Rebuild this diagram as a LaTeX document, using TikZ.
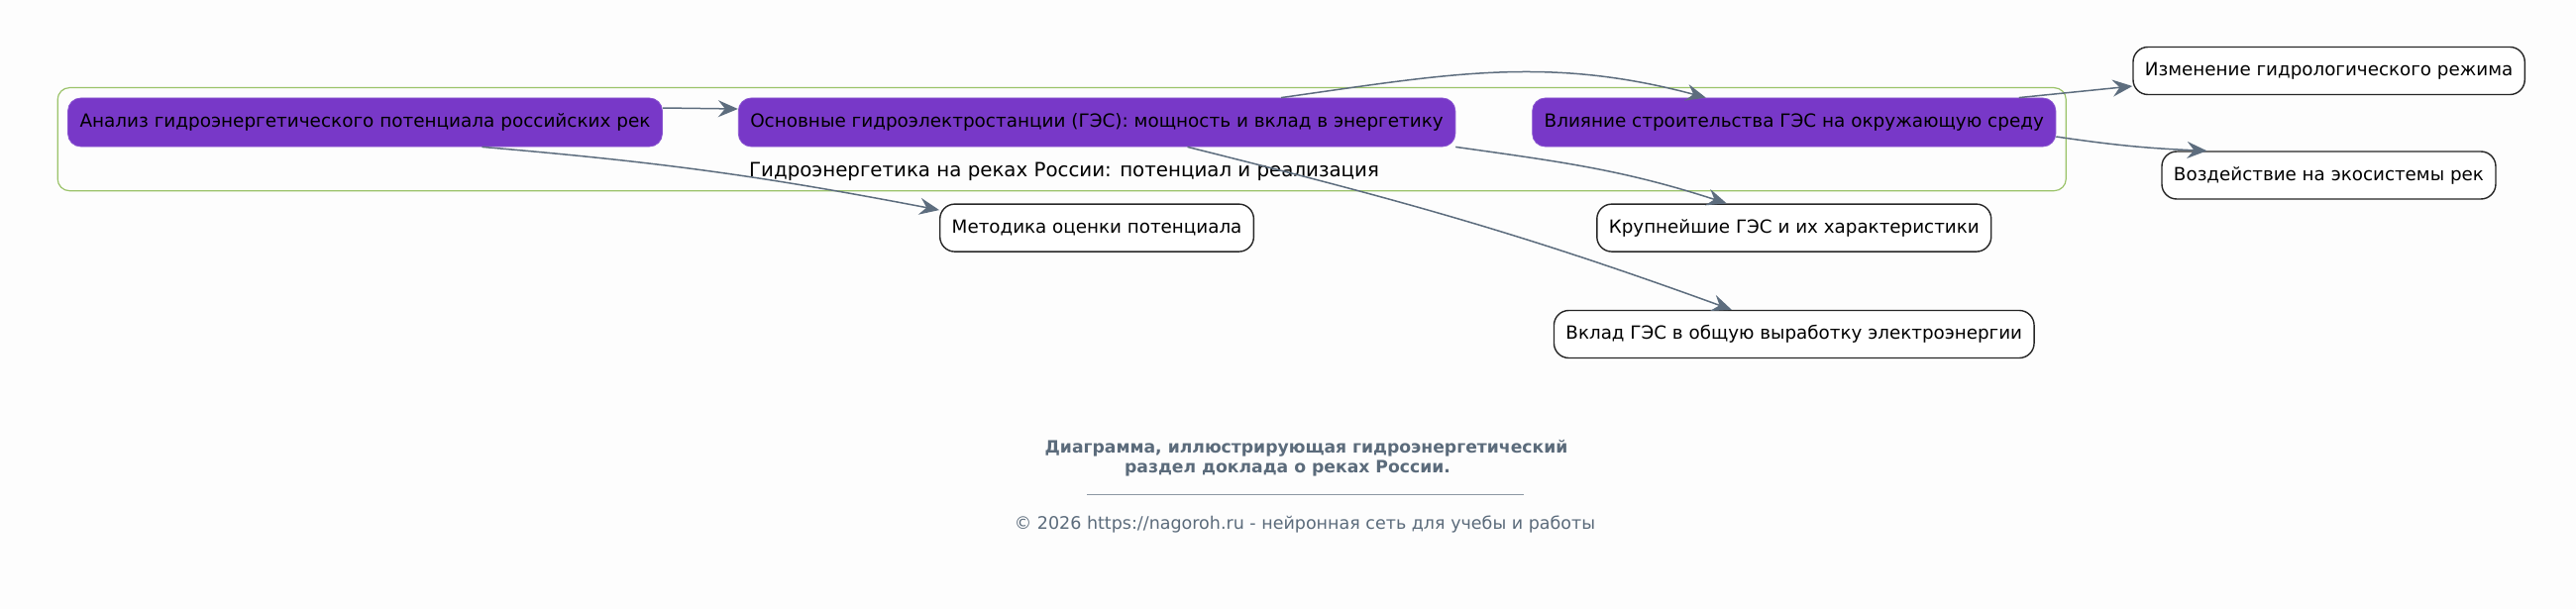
\documentclass[tikz,border=0pt]{standalone}
\usepackage{fontspec}
\setmainfont{DejaVu Sans}
\usepackage{tikz}
\usetikzlibrary{positioning}
\usetikzlibrary{arrows.meta,fit}
\definecolor{topicpurple}{HTML}{7838C8}
\definecolor{topicborder}{HTML}{8A55D0}
\definecolor{groupgreen}{HTML}{9BC36A}
\definecolor{linkgray}{HTML}{5D6D7E}
\definecolor{notegray}{HTML}{5B6B7B}
\definecolor{paper}{HTML}{FDFDFD}

\begin{document}
\begin{tikzpicture}[x=0.5pt, y=-0.5pt,
    topic/.style = {draw=topicborder, fill=topicpurple, rounded corners=6.5pt, font=\fontsize{9.2}{11}\selectfont, inner xsep=6pt, minimum height=24.5pt},
    leaf/.style = {draw=black!85, fill=white, line width=0.7pt, rounded corners=7.5pt, font=\fontsize{9.15}{11}\selectfont, inner xsep=6pt, minimum height=24pt},
    group/.style = {draw=groupgreen, line width=0.6pt, rounded corners=6pt, inner sep=5pt},
    link/.style = {draw=linkgray, line width=0.75pt, -{Stealth[length=10pt,width=8.5pt,inset=3.5pt]}}]
            \fill[paper] (0,0) rectangle (2600,615);
            \useasboundingbox (0,0) rectangle (2600,615);
            \node[topic](an) at (368.5,123.5){Анализ гидроэнергетического потенциала российских рек};
            \node[topic](os)[right =38pt of an]{Основные гидроэлектростанции (ГЭС): мощность и вклад в энергетику};
            \node[topic](vl)[right =38.5pt of os]{Влияние строительства ГЭС на окружающую среду};
            \node[inner sep=0pt, font=\fontsize{9.9}{11}\selectfont](lbl) at (1074,173){Гидроэнергетика на реках России: потенциал и реализация};
            \node[group, fit=(an)(vl)(lbl)](grp){};
            \node[leaf](me)[below =28.5pt of os]{Методика оценки потенциала};
            \node[leaf](kr)[below =28.5pt of vl]{Крупнейшие ГЭС и их характеристики};
            \node[leaf](vk)[below =29pt of kr]{Вклад ГЭС в общую выработку электроэнергии};
            \node[leaf](iz)[right =38.5pt of vl, yshift=26pt]{Изменение гидрологического режима};
            \node[leaf](vo)[right =53pt of vl, yshift=-26.75pt]{Воздействие на экосистемы рек};
            \draw[link] ([yshift=7.25pt]an.east) -- ([yshift=6.75pt]os.west);
            \draw[link] ([xshift=59pt]an.south) to[bend left=3] ([yshift=9pt]me.west);
            \draw[link] ([xshift=93pt]os.north) to[out=8, in=165] ([xshift=-44.5pt]vl.north);
            \draw[link] (os.south east) to[out=-8, in=162] ([xshift=-34pt]kr.north);
            \draw[link] ([xshift=45.75pt]os.south) to[out=-14, in=160] ([xshift=-31.5pt]vk.north);
            \draw[link] ([xshift=113.5pt]vl.north) -- ([yshift=-7.75pt]iz.west);
            \draw[link] ([yshift=-7.25pt]vl.east) to[bend right=3] ([xshift=-61.5pt]vo.north);
            \node[text=notegray, font=\bfseries\fontsize{8.6}{10}\selectfont, align=center](ttl) at (1318.5,463){Диаграмма, иллюстрирующая гидроэнергетический\\раздел доклада о реках России.\hspace*{19pt}};
            \draw[notegray!70, line width=0.4pt] (1097,499) -- (1538,499);
            \node[text=notegray, font=\fontsize{8.75}{10}\selectfont](cr) at (1317,530){© 2026 https://nagoroh.ru - нейронная сеть для учебы и работы};
        \end{tikzpicture}
\end{document}
